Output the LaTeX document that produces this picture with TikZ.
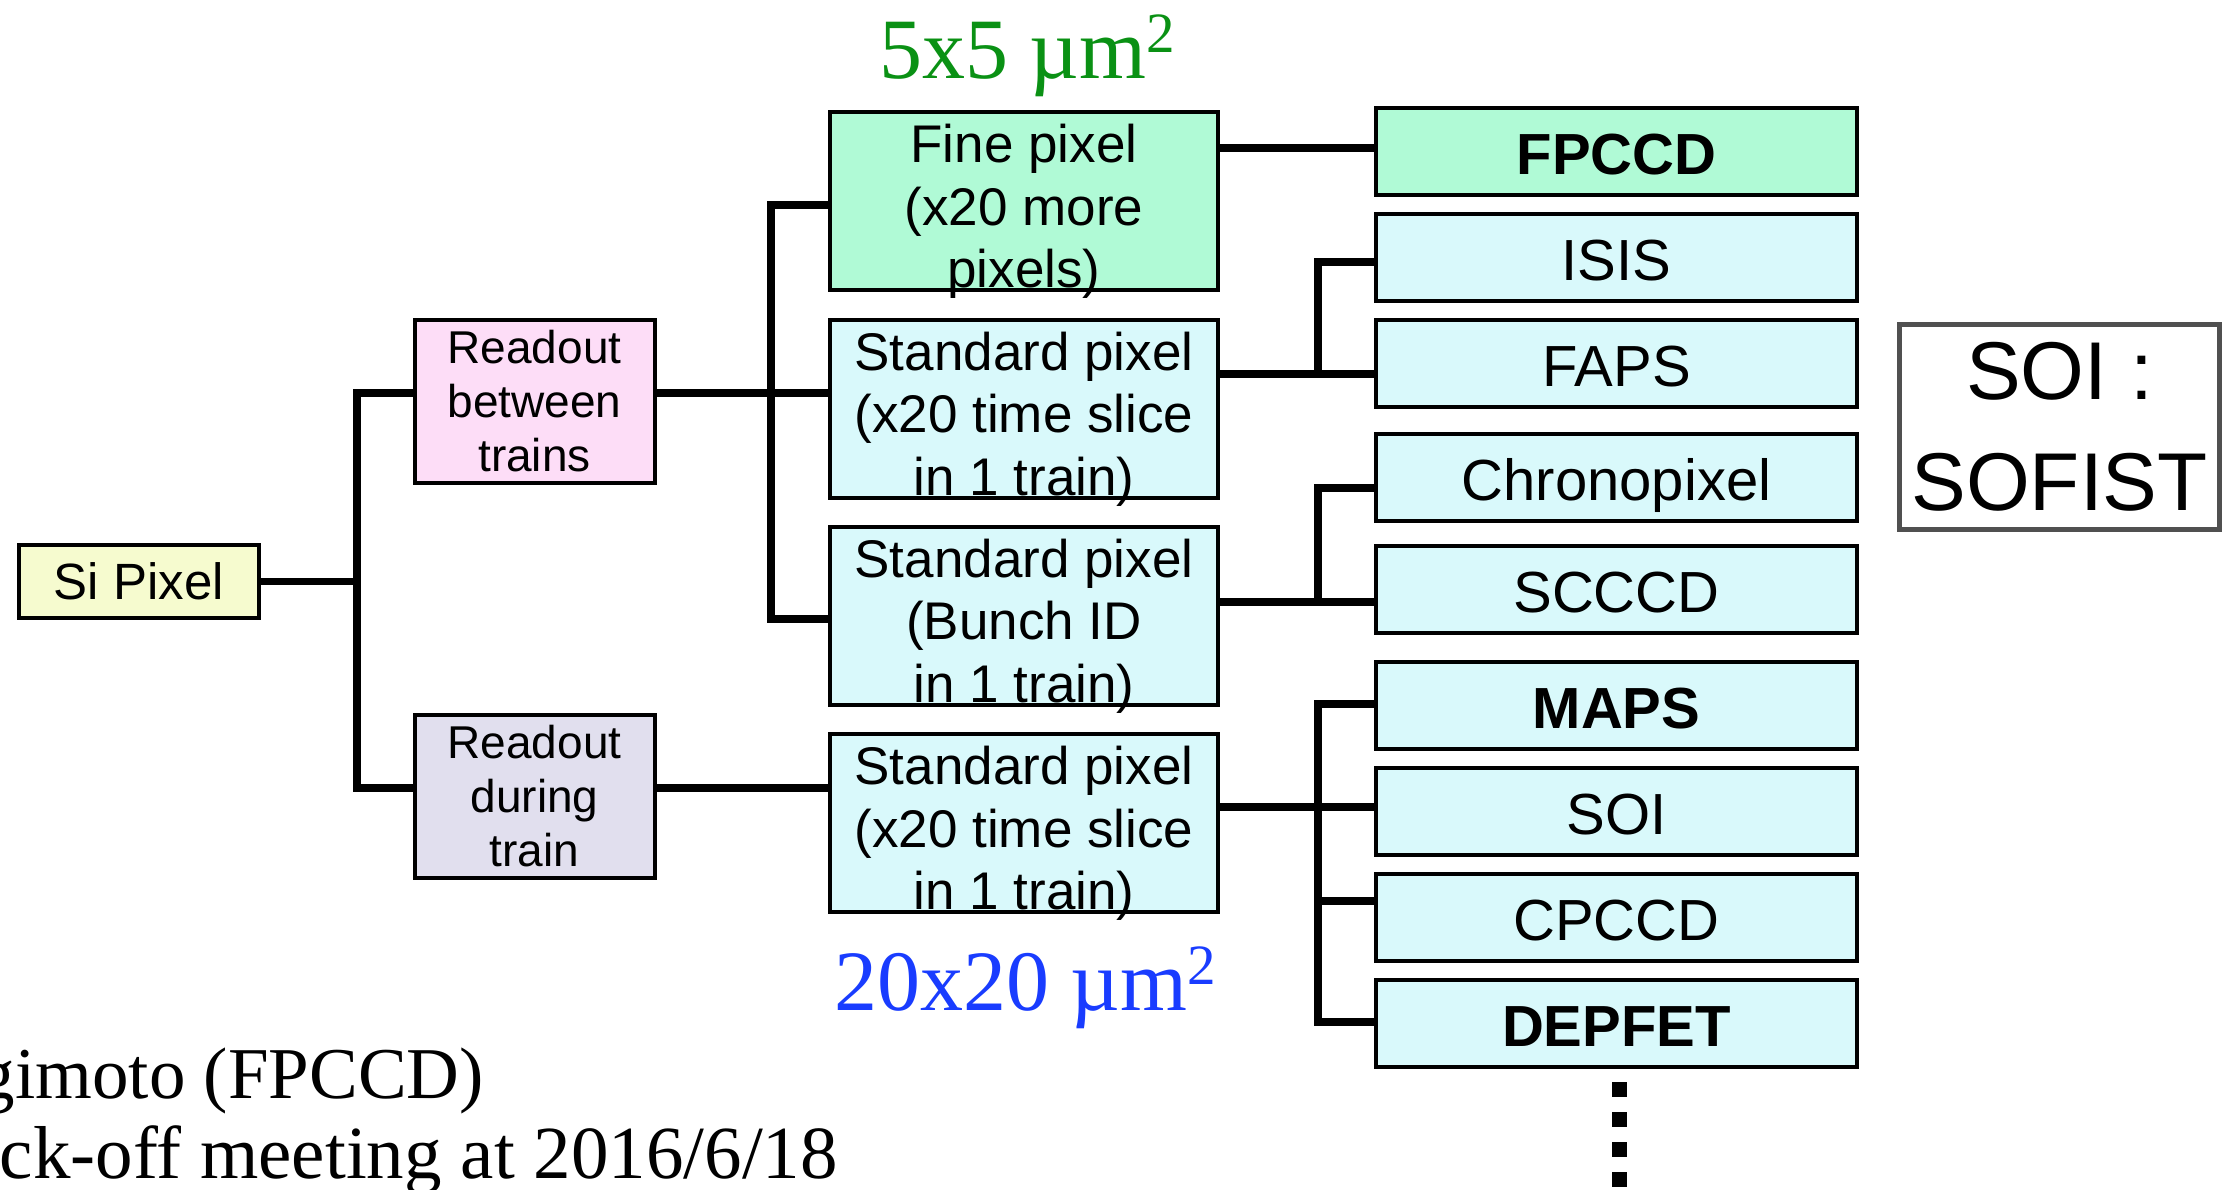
\documentclass[tikz,border=0pt]{standalone}
\usepackage{fontspec}
\setmainfont{Liberation Sans}
\newfontfamily\timesf{Liberation Serif}
\definecolor{cyellow}{RGB}{246,251,207}
\definecolor{cpink}{RGB}{253,221,247}
\definecolor{clav}{RGB}{225,223,238}
\definecolor{cmint}{RGB}{176,250,214}
\definecolor{ccyan}{RGB}{217,249,251}
\definecolor{cgreen}{RGB}{10,145,20}
\definecolor{cblue}{RGB}{25,60,255}
\definecolor{cgraybox}{RGB}{80,80,80}
\newcommand{\threelines}[1]{\smash{\raisebox{-18pt}{\renewcommand{\arraystretch}{1}\begin{tabular}[c]{@{}c@{}}#1\end{tabular}}}}
\newcommand{\supertwo}{\raisebox{26pt}{\fontsize{57}{60}\selectfont 2}}
\begin{document}
\begin{tikzpicture}[x=1pt,y=-1pt,
  box/.style={draw=black,line width=4pt,rectangle,inner sep=0pt,align=center},
  colthree/.style={box,minimum width=388pt,minimum height=178pt,font=\fontsize{53}{62.5}\selectfont},
  colfour/.style={box,fill=ccyan,minimum width=481pt,minimum height=87pt,text height=46pt,text depth=0pt,font=\fontsize{58}{66}\selectfont},
  readbox/.style={box,minimum width=240pt,minimum height=163pt,font=\fontsize{46}{54}\selectfont},
  conn/.style={draw=black,line width=7.5pt}]
\useasboundingbox (0,0) rectangle (2226,1189);
% column 1-2
\node[box,fill=cyellow,minimum width=240pt,minimum height=73pt,text height=36.7pt,text depth=0pt,font=\fontsize{51}{60}\selectfont] (si) at (139,581.5) {Si Pixel};
\node[readbox,fill=cpink] (rb) at (534.5,401.5) {Readout\\between\\trains};
\node[readbox,fill=clav] (rd) at (534.5,796.5) {Readout\\during\\train};
% column 3
\node[colthree,fill=cmint] (fp) at (1024,201) {\threelines{Fine pixel\\(x20 more\\pixels)}};
\node[colthree,fill=ccyan] (sp1) at (1024,408.5) {\threelines{Standard pixel\\(x20 time slice\\in 1 train)}};
\node[colthree,fill=ccyan] (sp2) at (1024,615.5) {\threelines{Standard pixel\\(Bunch ID\\in 1 train)}};
\node[colthree,fill=ccyan] (sp3) at (1024,823) {\threelines{Standard pixel\\(x20 time slice\\in 1 train)}};
% column 4
\node[colfour,fill=cmint] (fpccd) at (1616.5,151.5) {\bfseries FPCCD};
\node[colfour] (isis) at (1616.5,257.5) {ISIS};
\node[colfour] (faps) at (1616.5,363.5) {FAPS};
\node[colfour] (chrono) at (1616.5,477) {Chronopixel};
\node[colfour] (scccd) at (1616.5,589.5) {SCCCD};
\node[colfour] (maps) at (1616.5,705) {\bfseries MAPS};
\node[colfour] (soi) at (1616.5,811.5) {SOI};
\node[colfour] (cpccd) at (1616.5,917.5) {CPCCD};
\node[colfour] (depfet) at (1616.5,1023) {\bfseries DEPFET};
% SOI box
\node[draw=cgraybox,line width=5pt,rectangle,inner sep=0pt,minimum width=320pt,minimum height=205pt,align=center,font=\fontsize{82}{111}\selectfont] (sofist) at (2059.5,427) {SOI :\\SOFIST};
% labels
\node[anchor=base,text=cgreen,inner sep=0pt,font=\timesf\fontsize{86}{90}\selectfont] (fine) at (1027,78) {5x5 µm\supertwo};
\node[anchor=base,text=cblue,inner sep=0pt,font=\timesf\fontsize{86}{90}\selectfont] (std) at (1025,1010) {20x20 µm\supertwo};
\node[anchor=base east,inner sep=0pt,font=\timesf\fontsize{73}{80}\selectfont] (auth) at (484,1098) {gimoto (FPCCD)};
\node[anchor=base east,inner sep=0pt,font=\timesf\fontsize{75}{80}\selectfont] (meet) at (838,1178) {ck-off meeting at 2016/6/18};
% junction coordinates
\coordinate (ja) at (357,393);
\coordinate (jb) at (357,788);
\coordinate (ka) at (771,205);
\coordinate (kb) at (771,619);
\coordinate (fa) at (1300,148);
\coordinate (ma) at (1318,262);
\coordinate (mb) at (1318,374);
\coordinate (na) at (1318,488);
\coordinate (nb) at (1318,602);
\coordinate (oa) at (1318,704);
\coordinate (ob) at (1318,807);
\coordinate (oc) at (1318,901);
\coordinate (od) at (1318,1022);
\coordinate (dotA) at (1619.5,1082);
\coordinate (dotB) at (1619.5,1205);
% connectors
\draw[conn] (si.east) -- (si.east -| ja);
\draw[conn] (rb.west |- ja) -- (ja) -- (jb) -- (rd.west |- jb);
\draw[conn] (rb.east |- ja) -- (sp1.west |- ja);
\draw[conn] (rd.east |- jb) -- (sp3.west |- jb);
\draw[conn] (fp.west |- ka) -- (ka) -- (kb) -- (sp2.west |- kb);
\draw[conn] (fp.east |- fa) -- (fpccd.west |- fa);
\draw[conn] (isis.west |- ma) -- (ma) -- (mb);
\draw[conn] (sp1.east |- mb) -- (faps.west |- mb);
\draw[conn] (chrono.west |- na) -- (na) -- (nb);
\draw[conn] (sp2.east |- nb) -- (scccd.west |- nb);
\draw[conn] (maps.west |- oa) -- (oa) -- (od) -- (depfet.west |- od);
\draw[conn] (sp3.east |- ob) -- (soi.west |- ob);
\draw[conn] (oc) -- (cpccd.west |- oc);
\draw[line width=15pt,dash pattern=on 15pt off 15pt] (dotA) -- (dotB);
\end{tikzpicture}
\end{document}
